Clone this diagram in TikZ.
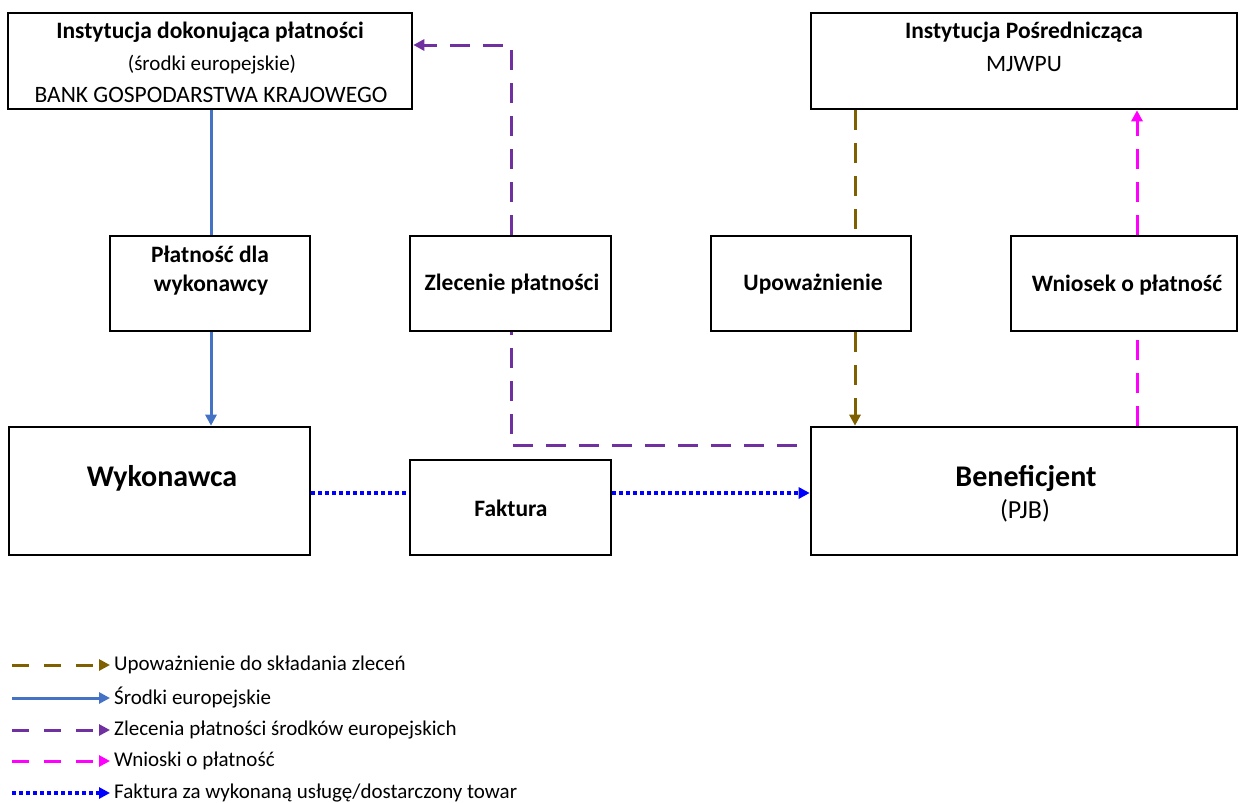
\documentclass[tikz,border=0pt]{standalone}
\usepackage{fontspec}
\setmainfont{Carlito}
\usetikzlibrary{arrows.meta}
\definecolor{cblue}{HTML}{4472C4}
\definecolor{cpurp}{HTML}{7030A0}
\definecolor{cbrown}{HTML}{7F6000}
\definecolor{cmag}{HTML}{FF00FF}
\definecolor{cdot}{HTML}{0000FF}
\begin{document}
\begin{tikzpicture}[x=1pt,y=-1pt,
  box/.style={draw=black,line width=2.6pt,fill=white,inner sep=0pt},
  tx/.style={inner sep=0pt,font=\fontsize{23.5}{27}\selectfont},
  txb/.style={tx,font=\fontsize{23.5}{27}\selectfont\bfseries},
  tip/.style={-{Triangle[length=11pt,width=11pt]}},
  lblue/.style={draw=cblue,line width=3pt},
  lpurp/.style={draw=cpurp,line width=3pt,dash pattern=on 20pt off 13pt},
  lbrown/.style={draw=cbrown,line width=3pt,dash pattern=on 20pt off 13pt},
  lmag/.style={draw=cmag,line width=3pt,dash pattern=on 20pt off 13pt},
  ldot/.style={draw=cdot,line width=3.5pt,dash pattern=on 3.5pt off 3.5pt},
  lgpurp/.style={lpurp,dash pattern=on 17pt off 15pt},
  lgbrown/.style={lbrown,dash pattern=on 17pt off 15pt},
  lgmag/.style={lmag,dash pattern=on 17pt off 15pt},
  lgtx/.style={tx,anchor=west,font=\fontsize{21}{24}\selectfont}
]
\useasboundingbox (0,0) rectangle (1240,803);
% boxes
\node[box,minimum width=404pt,minimum height=96pt] (A) at (210,61) {};
\node[box,minimum width=426pt,minimum height=96pt] (B) at (1024,61) {};
\node[box,minimum width=200pt,minimum height=95pt] (P) at (210,283.5) {};
\node[box,minimum width=201pt,minimum height=95pt] (Z) at (510.5,283.5) {};
\node[box,minimum width=200pt,minimum height=95pt] (U) at (811,283.5) {};
\node[box,minimum width=226pt,minimum height=95pt] (W) at (1124,283.5) {};
\node[box,minimum width=301pt,minimum height=128pt] (Wy) at (159.5,491) {};
\node[box,minimum width=201pt,minimum height=95pt] (F) at (510.5,507.5) {};
\node[box,minimum width=426pt,minimum height=128pt] (Ben) at (1024,491) {};
% texts
\node[txb] (A1) at (210,32) {Instytucja dokonująca płatności};
\node[tx,font=\fontsize{21}{24}\selectfont] (A2) at (212,65) {(środki europejskie)};
\node[tx] (A3) at (211,95) {BANK GOSPODARSTWA KRAJOWEGO};
\node[txb] (B1) at (1024,32) {Instytucja Pośrednicząca};
\node[tx] (B2) at (1024,64) {MJWPU};
\node[txb] (P1) at (210,254) {Płatność dla};
\node[txb] (P2) at (211,285) {wykonawcy};
\node[txb] (Z1) at (512,284) {Zlecenie płatności};
\node[txb] (U1) at (813,284) {Upoważnienie};
\node[txb] (W1) at (1127,285) {Wniosek o płatność};
\node[tx,font=\fontsize{30}{34}\selectfont\bfseries] (Wy1) at (162,478) {Wykonawca};
\node[txb] (F1) at (511,508) {Faktura};
\node[tx,font=\fontsize{30}{34}\selectfont\bfseries] (Ben1) at (1026,478) {Beneficjent};
\node[tx,font=\fontsize{26}{30}\selectfont] (Ben2) at (1025,511) {(PJB)};
% helper coordinates
\coordinate (bx) at (855,0);
\coordinate (mx) at (1137,0);
\coordinate (px) at (511,0);
\coordinate (dy) at (0,493);
\coordinate (pstart) at (797,445);
\coordinate (py) at (0,45);
% connectors
\draw[lblue] (A.south -| 211,0) -- (P.north -| 211,0);
\draw[lblue,tip] (P.south -| 211,0) -- (Wy.north -| 211,0);
\draw[lpurp] (pstart) -| (Z.south -| px);
\draw[lpurp,tip] (Z.north -| px) |- (A.east |- py);
\draw[lbrown] (B.south -| bx) -- (U.north -| bx);
\draw[lbrown,tip] (U.south -| bx) -- (Ben.north -| bx);
\draw[lmag] (Ben.north -| mx) -- (W.south -| mx);
\draw[lmag,tip] (W.north -| mx) -- (B.south -| mx);
\draw[ldot] (Wy.east |- dy) -- (F.west |- dy);
\draw[ldot,tip] (F.east |- dy) -- (Ben.west |- dy);
% legend
\coordinate (g1) at (12,665); \coordinate (h1) at (110,665);
\coordinate (g2) at (12,698); \coordinate (h2) at (110,698);
\coordinate (g3) at (12,730); \coordinate (h3) at (110,730);
\coordinate (g4) at (12,761); \coordinate (h4) at (110,761);
\coordinate (g5) at (12,793); \coordinate (h5) at (110,793);
\draw[lgbrown,tip] (g1) -- (h1);
\draw[lblue,tip] (g2) -- (h2);
\draw[lgpurp,tip] (g3) -- (h3);
\draw[lgmag,tip] (g4) -- (h4);
\draw[ldot,tip] (g5) -- (h5);
\node[lgtx] (L1) at (114,665) {Upoważnienie do składania zleceń};
\node[lgtx] (L2) at (114,698) {Środki europejskie};
\node[lgtx] (L3) at (114,730) {Zlecenia płatności środków europejskich};
\node[lgtx] (L4) at (114,761) {Wnioski o płatność};
\node[lgtx] (L5) at (114,793) {Faktura za wykonaną usługę/dostarczony towar};
\end{tikzpicture}
\end{document}
